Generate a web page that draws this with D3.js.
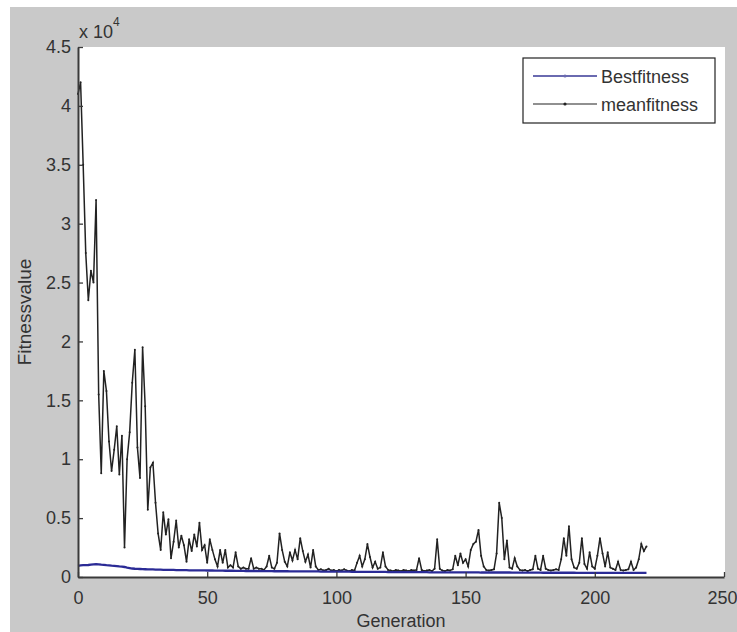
<!DOCTYPE html>
<html>
<head>
<meta charset="utf-8">
<script src="https://cdn.jsdelivr.net/npm/d3@7/dist/d3.min.js"></script>
<style>
  html, body { margin: 0; padding: 0; background: #ffffff; }
  svg { display: block; }
  text { font-family: "Liberation Sans", Arial, sans-serif; fill: #333; }
</style>
</head>
<body>
<svg id="chart" width="737" height="632"></svg>
<script>
// ---- data ----
const xTicks = [0, 50, 100, 150, 200, 250];
const yTicks = [0, 5000, 10000, 15000, 20000, 25000, 30000, 35000, 40000, 45000];
const yTickLabels = ["0", "0.5", "1", "1.5", "2", "2.5", "3", "3.5", "4", "4.5"];
const seriesNames = ["Bestfitness", "meanfitness"];

const bestFitness = [
  950, 980, 1000, 1000, 1020, 1050, 1080, 1100, 1080, 1050,
  1030, 1000, 980, 960, 950, 930, 900, 880, 850, 800,
  760, 720, 700, 690, 680, 670, 660, 650, 640, 640,
  630, 620, 620, 610, 610, 600, 600, 600, 590, 590,
  580, 580, 580, 570, 570, 570, 560, 560, 560, 560,
  550, 550, 550, 540, 540, 540, 540, 530, 530, 530,
  530, 520, 520, 520, 520, 510, 510, 510, 510, 510,
  500, 500, 500, 500, 500, 500, 490, 490, 490, 490,
  490, 490, 480, 480, 480, 480, 480, 480, 480, 470,
  470, 470, 470, 470, 460, 460, 460, 460, 460, 460,
  450, 450, 450, 450, 450, 450, 440, 440, 440, 440,
  440, 440, 440, 430, 430, 430, 430, 430, 430, 430,
  420, 420, 420, 420, 420, 420, 420, 420, 410, 410,
  410, 410, 410, 410, 410, 410, 400, 400, 400, 400,
  400, 400, 400, 400, 400, 400, 390, 390, 390, 390,
  390, 390, 390, 390, 390, 390, 380, 380, 380, 380,
  380, 380, 380, 380, 380, 380, 380, 380, 370, 370,
  370, 370, 370, 370, 370, 370, 370, 370, 370, 370,
  360, 360, 360, 360, 360, 360, 360, 360, 360, 360,
  360, 360, 360, 350, 350, 350, 350, 350, 350, 350,
  350, 350, 350, 350, 350, 350, 350, 350, 350, 350,
  350, 350, 350, 350, 350, 350, 350, 350, 350, 350,
  350
];

const meanFitness = [
  41000, 42000, 35000, 27500, 23500, 26000, 25000, 32000, 15500, 8800,
  17500, 15800, 11500, 9000, 10800, 12800, 8700, 12000, 2500, 10000,
  12300, 16500, 19300, 11000, 8400, 19500, 14500, 5700, 9300, 9700,
  6300, 3700, 2300, 5500, 3600, 4900, 1600, 3000, 4800, 2500,
  3500, 2700, 1300, 3200, 2200, 3600, 2600, 4600, 2300, 2700,
  1200, 3200, 2300, 1500, 900, 2300, 1200, 2300, 800, 1000,
  800, 2100, 900, 700, 800, 700, 700, 1600, 700, 800,
  700, 700, 600, 900, 1800, 800, 700, 1200, 3700, 2300,
  1300, 900, 2100, 1400, 2300, 1500, 3300, 2200, 1300, 1900,
  800, 2300, 900, 600, 650, 550, 600, 700, 550, 600,
  500, 600, 550, 650, 550, 500, 600, 550, 1200, 1800,
  900, 1500, 2800, 1700, 800, 1300, 700, 800, 2100, 900,
  600, 550, 500, 600, 550, 500, 600, 550, 500, 600,
  550, 600, 1600, 600, 500, 550, 600, 500, 700, 3200,
  700, 550, 500, 600, 550, 650, 1800, 1000, 2000, 1200,
  1500, 900, 2300, 2800, 3000, 4000, 1800, 900, 600, 550,
  600, 650, 2000, 6300, 5000, 1500, 3100, 800, 700, 1600,
  900, 600, 550, 600, 500, 600, 650, 1800, 700, 600,
  1800, 700, 600, 550, 600, 650, 600, 1500, 3300, 1800,
  4300, 1500, 800, 700, 1200, 3300, 1100, 700, 2100, 900,
  700, 1800, 3300, 2000, 900, 2100, 800, 700, 600, 1300,
  600, 550, 600, 650, 1300, 600, 800, 1500, 2800, 2200,
  2600
];

// ---- layout ----
const svg = d3.select("#chart");
const W = 737, H = 632;
const plot = { left: 78, top: 47, right: 724, bottom: 577 };

svg.append("rect").attr("x", 10).attr("y", 7).attr("width", W - 10).attr("height", H - 7)
  .attr("fill", "#c9c9c9");
svg.append("rect").attr("x", plot.left).attr("y", plot.top)
  .attr("width", plot.right - plot.left + 1).attr("height", plot.bottom - plot.top)
  .attr("fill", "#ffffff");

const x = d3.scaleLinear().domain([0, 250]).range([plot.left, plot.right]);
const y = d3.scaleLinear().domain([0, 45000]).range([plot.bottom, plot.top]);

// ---- lines ----
const line = d3.line().x((d, i) => x(i)).y(d => y(d));

const g = svg.append("g");
g.append("path").datum(meanFitness).attr("d", line)
  .attr("fill", "none").attr("stroke", "#222").attr("stroke-width", 1.5)
  .attr("stroke-linejoin", "miter");
g.selectAll("circle.mean").data(meanFitness).enter().append("circle")
  .attr("class", "mean").attr("cx", (d, i) => x(i)).attr("cy", d => y(d))
  .attr("r", 1).attr("fill", "#222");

g.append("path").datum(bestFitness).attr("d", line)
  .attr("fill", "none").attr("stroke", "#2b2b96").attr("stroke-width", 2.3);

// ---- axes ----
const axisColor = "#3a3a3a";
const xAxis = d3.axisBottom(x).tickValues(xTicks).tickSizeInner(-5).tickSizeOuter(0)
  .tickPadding(14).tickFormat(d3.format("d"));
const gx = svg.append("g").attr("transform", `translate(0,${plot.bottom})`).call(xAxis);
gx.select(".domain").attr("stroke", axisColor).attr("stroke-width", 2);
gx.selectAll(".tick line").attr("stroke", axisColor).attr("stroke-width", 1.3);
gx.selectAll(".tick text").attr("font-size", 18).attr("fill", "#333")
  .attr("font-family", "Liberation Sans, Arial, sans-serif")
  .attr("dx", d => d === 250 ? -2 : 0);

const yAxis = d3.axisLeft(y).tickValues(yTicks).tickSizeInner(-5).tickSizeOuter(0)
  .tickPadding(7).tickFormat((d, i) => yTickLabels[i]);
const gy = svg.append("g").attr("transform", `translate(${plot.left},0)`).call(yAxis);
gy.select(".domain").attr("stroke", axisColor).attr("stroke-width", 2);
gy.selectAll(".tick line").attr("stroke", axisColor).attr("stroke-width", 1.3);
gy.selectAll(".tick text").attr("font-size", 18).attr("fill", "#333")
  .attr("font-family", "Liberation Sans, Arial, sans-serif");

// exponent label
const exp = svg.append("text").attr("x", 79).attr("y", 38).attr("font-size", 18);
exp.append("tspan").text("x 10");
exp.append("tspan").attr("dy", -12).attr("font-size", 12).text("4");

// axis titles
svg.append("text").attr("x", (plot.left + plot.right) / 2).attr("y", 627)
  .attr("text-anchor", "middle").attr("font-size", 18).text("Generation");
svg.append("text").attr("transform", `translate(31,${(plot.top + plot.bottom) / 2}) rotate(-90)`)
  .attr("text-anchor", "middle").attr("font-size", 19).text("Fitnessvalue");

// ---- legend ----
const leg = svg.append("g");
leg.append("rect").attr("x", 523).attr("y", 58).attr("width", 192).attr("height", 65)
  .attr("fill", "#ffffff").attr("stroke", "#222").attr("stroke-width", 1.2);
const legColors = ["#6a6ab0", "#222"];
seriesNames.forEach((name, i) => {
  const ly = 76 + i * 28;
  leg.append("line").attr("x1", 533).attr("x2", 597).attr("y1", ly).attr("y2", ly)
    .attr("stroke", legColors[i]).attr("stroke-width", i === 0 ? 1.8 : 1.2);
  leg.append("circle").attr("cx", 565).attr("cy", ly).attr("r", 1.6).attr("fill", legColors[i]);
  leg.append("text").attr("x", 601).attr("y", ly + 6.5).attr("font-size", 18).text(name);
});
</script>
</body>
</html>
